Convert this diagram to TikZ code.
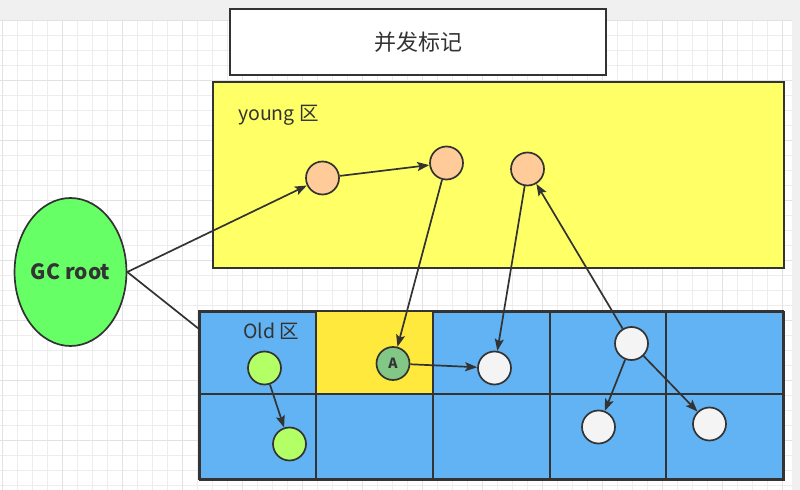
\documentclass[tikz,border=0pt]{standalone}
\usepackage{fontspec}
\newfontfamily\cjk{Noto Sans CJK SC}
\usetikzlibrary{shapes.geometric,arrows.meta}
\definecolor{ink}{HTML}{333333}
\definecolor{gridminor}{HTML}{EDEDED}
\definecolor{gridmajor}{HTML}{E2E2E2}
\definecolor{topgray}{HTML}{F0F0F0}
\definecolor{younggold}{HTML}{FFFF66}
\definecolor{oldblue}{HTML}{62B3F3}
\definecolor{cellyellow}{HTML}{FFE93C}
\definecolor{objorange}{HTML}{FFCC99}
\definecolor{rootgreen}{HTML}{66FF66}
\definecolor{objlime}{HTML}{B3FF66}
\definecolor{objA}{HTML}{82C785}
\definecolor{objwhite}{HTML}{F4F4F4}
\tikzset{
  region/.style={draw=ink, line width=2bp, inner sep=0pt},
  obj/.style={circle, draw=ink, line width=1.7bp, minimum size=33bp, inner sep=0pt},
  arr/.style={draw=ink, line width=1.7bp, -{Stealth[length=12bp,width=9bp,inset=2.5bp]}},
  plain/.style={draw=ink, line width=1.7bp},
  lbl/.style={text=ink, font=\cjk\fontsize{19.5bp}{22bp}\selectfont, inner sep=0pt, anchor=west}
}
\begin{document}
\begin{tikzpicture}[x=1bp,y=-1bp]
\useasboundingbox (0,0) rectangle (800,490);
% background
\fill[white] (0,0) rectangle (800,490);
\fill[topgray] (0,0) rectangle (800,20);
\fill[topgray] (792,0) rectangle (800,490);
\foreach \k in {0,...,52} {
  \pgfmathsetmacro{\xx}{2.5+15*\k}
  \draw[gridminor, line width=1bp] (\xx,20) -- (\xx,490);
}
\foreach \k in {0,...,31} {
  \pgfmathsetmacro{\yy}{20.5+15*\k}
  \draw[gridminor, line width=1bp] (0,\yy) -- (792,\yy);
}
\foreach \k in {0,...,13} {
  \pgfmathsetmacro{\xx}{2.5+60*\k}
  \draw[gridmajor, line width=1bp] (\xx,20) -- (\xx,490);
}
\foreach \k in {0,...,7} {
  \pgfmathsetmacro{\yy}{20.5+60*\k}
  \draw[gridmajor, line width=1bp] (0,\yy) -- (792,\yy);
}
% title
\node[region, fill=white, minimum width=376bp, minimum height=66bp, anchor=north west,
      text=ink, font=\cjk\fontsize{22bp}{24bp}\selectfont] (title) at (229,8) {并发标记};
% young region
\node[region, fill=younggold, minimum width=571bp, minimum height=186bp, anchor=north west] (young) at (212,81) {};
\node[lbl] (younglbl) at (238,115) {young 区};
% old region cells
\node[region, fill=oldblue, minimum width=584bp, minimum height=168bp, anchor=north west] (old) at (199,311) {};
\fill[cellyellow] (316,311) rectangle (433,394);
\draw[ink, line width=2bp] (199,394) -- (783,394);
\foreach \xx in {316,433,550,666} { \draw[ink, line width=2bp] (\xx,311) -- (\xx,479); }
\draw[ink, line width=2bp] (199,311) rectangle (783,479);
\node[lbl] (oldlbl) at (243,331) {Old 区};
% GC root
\node[ellipse, draw=ink, line width=1.7bp, fill=rootgreen, minimum width=107bp, minimum height=148bp,
      inner sep=0pt, text=ink, font=\cjk\bfseries\fontsize{21bp}{24bp}\selectfont] (gc) at (70.5,272) {GC root};
% objects
\node[obj, fill=objorange] (o1) at (322.5,178) {};
\node[obj, fill=objorange] (o2) at (446.5,163) {};
\node[obj, fill=objorange] (o3) at (527.5,169) {};
\node[obj, fill=objlime] (g1) at (264.5,368) {};
\node[obj, fill=objlime] (g2) at (289.5,444) {};
\node[obj, fill=objA, text=ink, font=\cjk\bfseries\fontsize{14bp}{15bp}\selectfont] (A) at (393,363.5) {A};
\node[obj, fill=objwhite] (w1) at (494.5,368) {};
\node[obj, fill=objwhite] (w2) at (631.5,343.5) {};
\node[obj, fill=objwhite] (w3) at (598.5,427) {};
\node[obj, fill=objwhite] (w4) at (709.5,424) {};
\coordinate (oldhit) at (199,329);
% connectors
\draw[arr] (gc.east) -- (o1);
\draw[plain] (gc.east) -- (oldhit);
\draw[arr] (o1) -- (o2);
\draw[arr] (o2) -- (A);
\draw[arr] (o3) -- (w1);
\draw[arr] (w2) -- (o3);
\draw[arr] (A) -- (w1);
\draw[arr] (w2) -- (w3);
\draw[arr] (w2) -- (w4);
\draw[arr] (g1) -- (g2);
\end{tikzpicture}
\end{document}
